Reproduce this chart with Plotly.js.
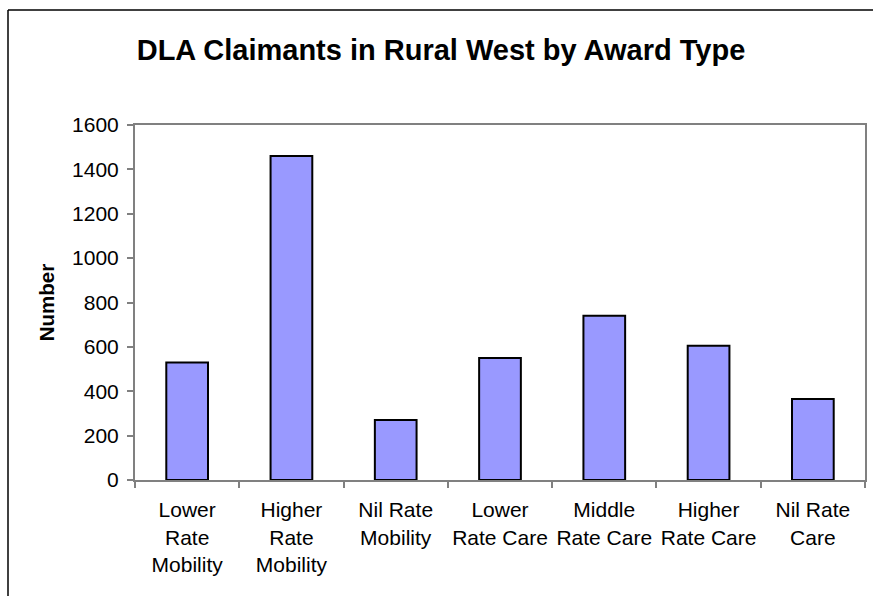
<!DOCTYPE html>
<html>
<head>
<meta charset="utf-8">
<script src="https://cdn.plot.ly/plotly-3.0.1.min.js"></script>
<style>html,body{margin:0;padding:0;background:#fff;}#chart{width:873px;height:596px;}</style>
</head>
<body>
<div id="chart"></div>
<script>
const categories = ["Lower<br>Rate<br>Mobility","Higher<br>Rate<br>Mobility","Nil Rate<br>Mobility","Lower<br>Rate Care","Middle<br>Rate Care","Higher<br>Rate Care","Nil Rate<br>Care"];
const values = [530, 1460, 270, 550, 740, 605, 365];
const yTicks = [0,200,400,600,800,1000,1200,1400,1600];

const L=135, R=8, T=125, B=116, W=873, H=596;
const pw = W-L-R, ph = H-T-B;
const px = x => (x-L)/pw;
const py = y => (H-B-y)/ph;

const trace = {
  type:'bar', x:categories, y:values,
  marker:{color:'#9999FF', line:{color:'#000', width:2}},
  width:0.4, hoverinfo:'skip'
};
const layout = {
  width:W, height:H,
  margin:{l:L,r:R,t:T,b:B,pad:0},
  paper_bgcolor:'#fff', plot_bgcolor:'#fff',
  font:{family:'Liberation Sans, Arial, sans-serif', size:21, color:'#000'},
  showlegend:false,
  title:{text:'<b>DLA Claimants in Rural West by Award Type</b>', font:{size:29}, x:441/W, xref:'container', xanchor:'center', y:1-50/H, yref:'container', yanchor:'middle'},
  xaxis:{type:'category', showline:true, linecolor:'#808080', linewidth:2, mirror:true,
         ticks:'outside', tickson:'boundaries', ticklen:6, tickcolor:'#808080', tickwidth:2,
         showgrid:false, zeroline:false, tickfont:{size:21}, automargin:false, ticklabelstandoff:10, tickangle:0},
  yaxis:{range:[0,1600], tickvals:yTicks, showline:true, linecolor:'#808080', linewidth:2, mirror:true,
         ticks:'outside', ticklen:6, tickcolor:'#808080', tickwidth:2, showgrid:false, zeroline:false,
         tickfont:{size:21}, automargin:false, ticklabelstandoff:4,
         title:{text:'<b>Number</b>', font:{size:20.5}, standoff:12}},
  shapes:[
    {type:'line', xref:'paper', yref:'paper', x0:px(8), x1:px(8), y0:py(10), y1:py(700), line:{color:'#000', width:1.5}},
    {type:'line', xref:'paper', yref:'paper', x0:px(8), x1:px(1000), y0:py(10), y1:py(10), line:{color:'#000', width:1.5}}
  ]
};
Plotly.newPlot('chart',[trace],layout,{staticPlot:true, displayModeBar:false});
</script>
</body>
</html>
